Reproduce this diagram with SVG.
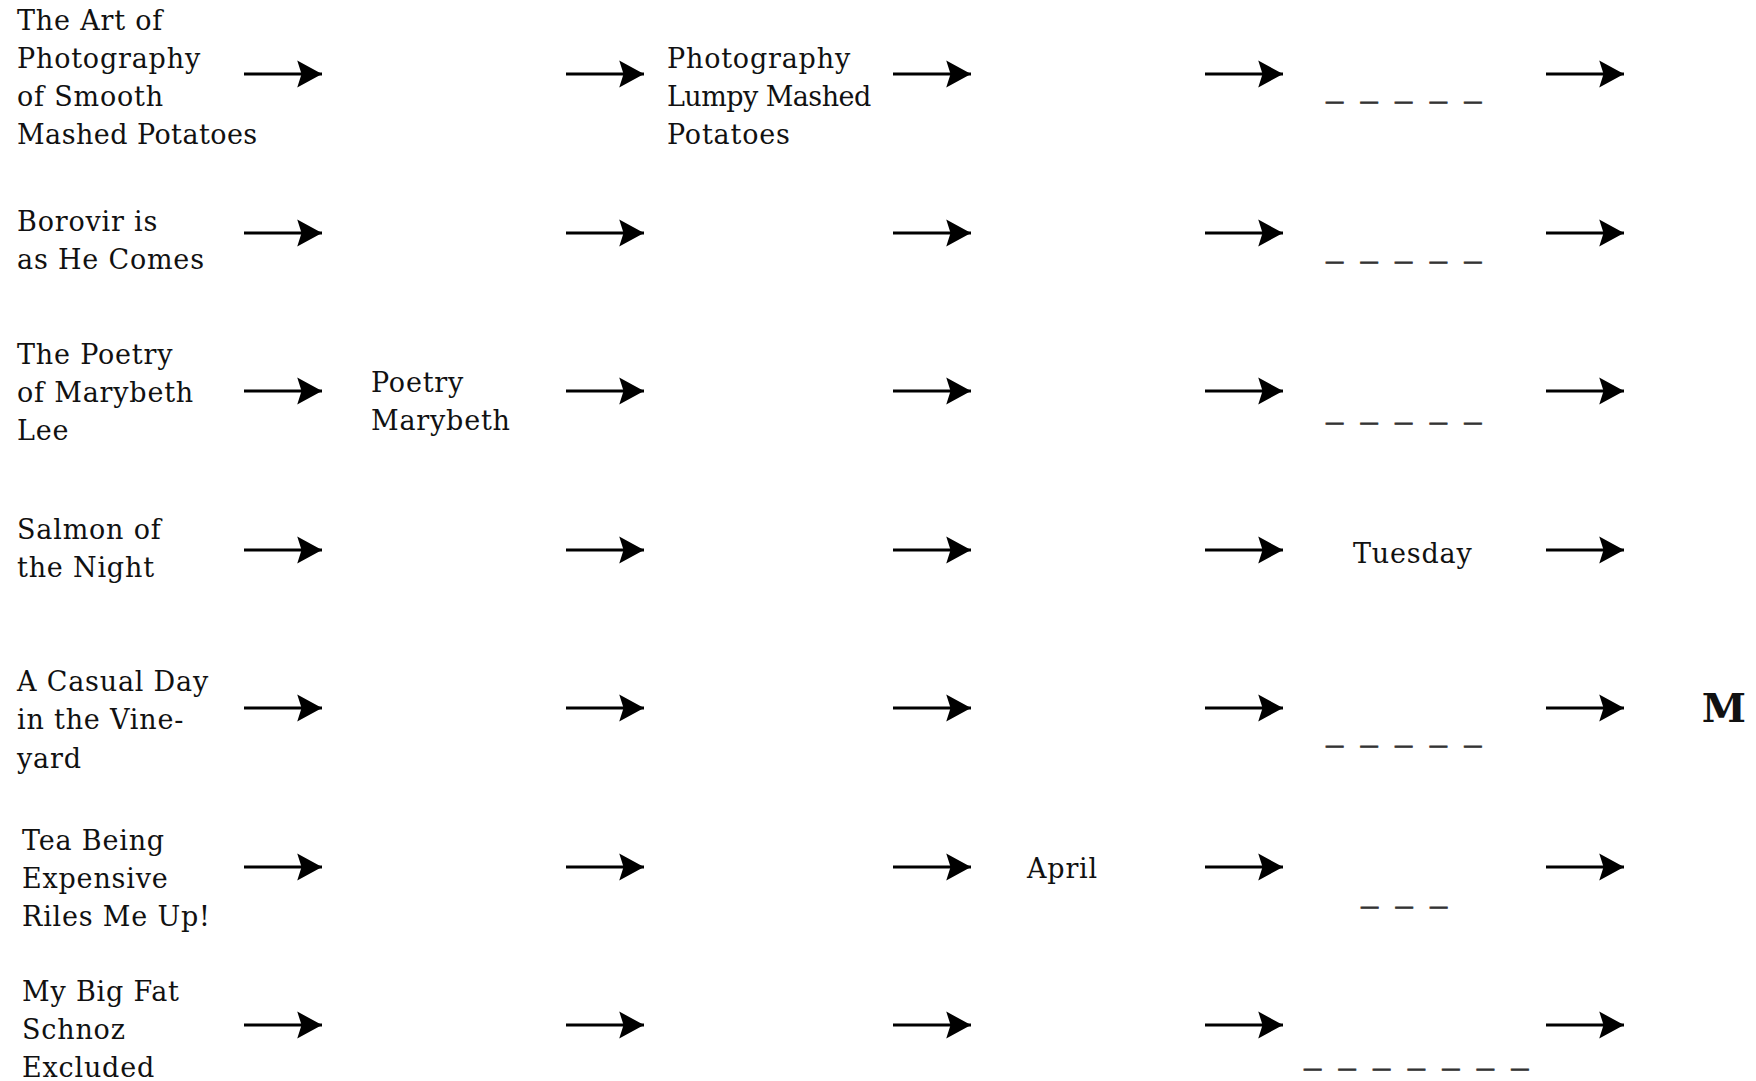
<svg xmlns="http://www.w3.org/2000/svg" width="1756" height="1081" viewBox="0 0 1756 1081">
<defs>
<style>
.t{font-family:"DejaVu Serif","Liberation Serif",serif;font-size:27px;letter-spacing:0.8px;fill:#111;}
.d{font-family:"Liberation Mono","Courier New",monospace;font-size:28.8px;font-weight:bold;fill:#333;stroke:#333;stroke-width:0.8;}
.m{font-family:"DejaVu Serif","Liberation Serif",serif;font-size:40px;font-weight:bold;fill:#111;}
.a{stroke:#000;stroke-width:3;fill:none;marker-end:url(#ah);}
</style>
<marker id="ah" markerUnits="userSpaceOnUse" markerWidth="26" markerHeight="28" viewBox="0 -13 24 26" refX="23" refY="0" orient="auto">
<path d="M0,-12.5 L23,0 L0,12.5 L4,0 Z" fill="#000"/>
</marker>
<path id="ar" class="a" d="M0,0H78"/>
</defs>
<rect width="1756" height="1081" fill="#fff"/>
<g id="connectors">
<use href="#ar" x="244" y="74"/><use href="#ar" x="566" y="74"/><use href="#ar" x="893" y="74"/><use href="#ar" x="1205" y="74"/><use href="#ar" x="1546" y="74"/>
<use href="#ar" x="244" y="233"/><use href="#ar" x="566" y="233"/><use href="#ar" x="893" y="233"/><use href="#ar" x="1205" y="233"/><use href="#ar" x="1546" y="233"/>
<use href="#ar" x="244" y="391"/><use href="#ar" x="566" y="391"/><use href="#ar" x="893" y="391"/><use href="#ar" x="1205" y="391"/><use href="#ar" x="1546" y="391"/>
<use href="#ar" x="244" y="550"/><use href="#ar" x="566" y="550"/><use href="#ar" x="893" y="550"/><use href="#ar" x="1205" y="550"/><use href="#ar" x="1546" y="550"/>
<use href="#ar" x="244" y="708"/><use href="#ar" x="566" y="708"/><use href="#ar" x="893" y="708"/><use href="#ar" x="1205" y="708"/><use href="#ar" x="1546" y="708"/>
<use href="#ar" x="244" y="867"/><use href="#ar" x="566" y="867"/><use href="#ar" x="893" y="867"/><use href="#ar" x="1205" y="867"/><use href="#ar" x="1546" y="867"/>
<use href="#ar" x="244" y="1025"/><use href="#ar" x="566" y="1025"/><use href="#ar" x="893" y="1025"/><use href="#ar" x="1205" y="1025"/><use href="#ar" x="1546" y="1025"/>
</g>
<g id="n1a"><text class="t" x="17" y="30">The Art of</text><text class="t" x="17" y="68">Photography</text><text class="t" x="17" y="106">of Smooth</text><text class="t" x="17" y="144" textLength="241">Mashed Potatoes</text></g>
<g id="n1c"><text class="t" x="667" y="68">Photography</text><text class="t" x="667" y="106" textLength="205">Lumpy Mashed</text><text class="t" x="667" y="144">Potatoes</text></g>
<g id="n1e"><text class="d" x="1326" y="100">_ _ _ _ _</text></g>
<g id="n2a"><text class="t" x="17" y="231">Borovir is</text><text class="t" x="17" y="269">as He Comes</text></g>
<g id="n2e"><text class="d" x="1326" y="260">_ _ _ _ _</text></g>
<g id="n3a"><text class="t" x="17" y="364">The Poetry</text><text class="t" x="17" y="402">of Marybeth</text><text class="t" x="17" y="440">Lee</text></g>
<g id="n3b"><text class="t" x="371" y="392">Poetry</text><text class="t" x="371" y="430">Marybeth</text></g>
<g id="n3e"><text class="d" x="1326" y="421">_ _ _ _ _</text></g>
<g id="n4a"><text class="t" x="17" y="539">Salmon of</text><text class="t" x="17" y="577">the Night</text></g>
<g id="n4e"><text class="t" x="1353" y="563">Tuesday</text></g>
<g id="n5a"><text class="t" x="17" y="691">A Casual Day</text><text class="t" x="17" y="729">in the Vine-</text><text class="t" x="17" y="768">yard</text></g>
<g id="n5e"><text class="d" x="1326" y="744">_ _ _ _ _</text></g>
<g id="n5f"><text class="m" x="1746" y="722" text-anchor="end">M</text></g>
<g id="n6a"><text class="t" x="22" y="850">Tea Being</text><text class="t" x="22" y="888">Expensive</text><text class="t" x="22" y="926">Riles Me Up!</text></g>
<g id="n6d"><text class="t" x="1027" y="878">April</text></g>
<g id="n6e"><text class="d" x="1361" y="905">_ _ _</text></g>
<g id="n7a"><text class="t" x="22" y="1001">My Big Fat</text><text class="t" x="22" y="1039">Schnoz</text><text class="t" x="22" y="1077">Excluded</text></g>
<g id="n7e"><text class="d" x="1304" y="1067">_ _ _ _ _ _ _</text></g>
</svg>
